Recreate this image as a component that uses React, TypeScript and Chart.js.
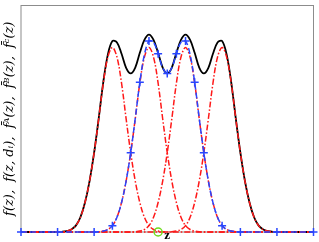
import React, { useEffect, useRef } from "react";
import { Chart, registerables } from "chart.js";

Chart.register(...registerables);

// z positions (axis runs 0..64)
const zGrid = [0, 4, 8, 9, 10, 11, 12, 13, 14, 15, 16, 17, 18, 19, 20, 21, 22, 23, 24, 25, 26, 27, 28, 29, 30, 31, 32, 33, 34, 35, 36, 37, 38, 39, 40, 41, 42, 43, 44, 45, 46, 47, 48, 49, 50, 51, 52, 53, 54, 55, 56, 60, 64];

// f(z): total density (black)
const fTotal = [0, 0, 0, 0.001, 0.004, 0.011, 0.028, 0.065, 0.13, 0.225, 0.35, 0.501, 0.661, 0.783, 0.843, 0.837, 0.787, 0.725, 0.70, 0.726, 0.791, 0.848, 0.871, 0.848, 0.791, 0.726, 0.70, 0.726, 0.791, 0.848, 0.871, 0.848, 0.791, 0.726, 0.70, 0.725, 0.787, 0.837, 0.843, 0.783, 0.661, 0.501, 0.35, 0.225, 0.13, 0.065, 0.028, 0.011, 0.004, 0.001, 0, 0, 0];

// f(z, d_i): the four components (red dash-dot)
const fCompA = [0, 0, 0, 0.001, 0.004, 0.011, 0.028, 0.065, 0.13, 0.225, 0.35, 0.5, 0.657, 0.772, 0.815, 0.772, 0.657, 0.5, 0.35, 0.225, 0.13, 0.065, 0.028, 0.011, 0.004, 0.001, 0, 0, 0, 0, 0, 0, 0, 0, 0, 0, 0, 0, 0, 0, 0, 0, 0, 0, 0, 0, 0, 0, 0, 0, 0, 0, 0];
const fCompB = [0, 0, 0, 0, 0, 0, 0, 0, 0, 0, 0, 0.001, 0.004, 0.011, 0.028, 0.065, 0.13, 0.225, 0.35, 0.5, 0.657, 0.772, 0.815, 0.772, 0.657, 0.5, 0.35, 0.225, 0.13, 0.065, 0.028, 0.011, 0.004, 0.001, 0, 0, 0, 0, 0, 0, 0, 0, 0, 0, 0, 0, 0, 0, 0, 0, 0, 0, 0];
const fCompC = [0, 0, 0, 0, 0, 0, 0, 0, 0, 0, 0, 0, 0, 0, 0, 0, 0, 0, 0, 0.001, 0.004, 0.011, 0.028, 0.065, 0.13, 0.225, 0.35, 0.5, 0.657, 0.772, 0.815, 0.772, 0.657, 0.5, 0.35, 0.225, 0.13, 0.065, 0.028, 0.011, 0.004, 0.001, 0, 0, 0, 0, 0, 0, 0, 0, 0, 0, 0];
const fCompD = [0, 0, 0, 0, 0, 0, 0, 0, 0, 0, 0, 0, 0, 0, 0, 0, 0, 0, 0, 0, 0, 0, 0, 0, 0, 0, 0, 0.001, 0.004, 0.011, 0.028, 0.065, 0.13, 0.225, 0.35, 0.5, 0.657, 0.772, 0.815, 0.772, 0.657, 0.5, 0.35, 0.225, 0.13, 0.065, 0.028, 0.011, 0.004, 0.001, 0, 0, 0];

// f-bar (blue dashed with + markers)
const fBar = [0, 0, 0, 0, 0, 0, 0, 0, 0, 0, 0, 0.001, 0.004, 0.011, 0.028, 0.065, 0.13, 0.225, 0.35, 0.501, 0.661, 0.783, 0.843, 0.837, 0.787, 0.725, 0.70, 0.725, 0.787, 0.837, 0.843, 0.783, 0.661, 0.501, 0.35, 0.225, 0.13, 0.065, 0.028, 0.011, 0.004, 0.001, 0, 0, 0, 0, 0, 0, 0, 0, 0, 0, 0];
const markerZ = [0, 8, 16, 20, 24, 26, 28, 30, 32, 34, 36, 38, 40, 44, 48, 56, 64];

// highlighted point on the z axis (green ring)
const pointZ = [30];
const pointF = [0];

const yTitle = "f(z),  f(z, dᵢ),  f̄ᴬ(z),  f̄ᴮ(z),  f̄ᶜ(z)";
const xTitle = "z";

const RED = "rgb(255,25,25)";
const BLUE = "rgb(40,70,255)";

export default function App() {
  const ref = useRef<HTMLCanvasElement>(null);

  useEffect(() => {
    document.body.style.margin = "0";
    const canvas = ref.current;
    if (!canvas) return;
    const pts = (ys: number[]) => zGrid.map((z, i) => ({ x: z, y: ys[i] }));

    const boxPlugin = {
      id: "box",
      beforeDatasetsDraw(chart: any) {
        const { ctx, chartArea: a } = chart;
        ctx.save();
        ctx.strokeStyle = "#8c8c8c";
        ctx.lineWidth = 1;
        ctx.strokeRect(a.left, a.top, a.right - a.left, a.bottom - a.top);
        ctx.restore();
      },
    };

    const curve = {
      tension: 0.35,
      capBezierPoints: true,
      pointRadius: 0,
      clip: false as const,
    };

    const redSet = (ys: number[]) => ({
      ...curve,
      data: pts(ys),
      borderColor: RED,
      borderWidth: 1.5,
      borderDash: [6, 2, 1.5, 2],
      order: 2,
    });

    const chart = new Chart(canvas, {
      type: "line",
      data: {
        datasets: [
          {
            data: pointZ.map((z, i) => ({ x: z, y: pointF[i] })),
            showLine: false,
            pointStyle: "circle",
            pointRadius: 4,
            pointBorderWidth: 1.5,
            pointBorderColor: "rgb(110,220,30)",
            pointBackgroundColor: "rgba(0,0,0,0)",
            clip: false as const,
            order: 0,
          },
          {
            ...curve,
            data: pts(fBar),
            borderColor: BLUE,
            borderWidth: 1.5,
            borderDash: [6, 3],
            pointStyle: "cross",
            pointRadius: (c: any) => (markerZ.includes(zGrid[c.dataIndex]) ? 4 : 0),
            pointBorderColor: BLUE,
            pointBorderWidth: 1.5,
            order: 1,
          },
          redSet(fCompA),
          redSet(fCompB),
          redSet(fCompC),
          redSet(fCompD),
          {
            ...curve,
            data: pts(fTotal),
            borderColor: "#000000",
            borderWidth: 1.8,
            order: 3,
          },
        ],
      },
      options: {
        animation: false,
        responsive: true,
        maintainAspectRatio: false,
        layout: { padding: { top: 2, right: 4, left: 0, bottom: 0 } },
        plugins: { legend: { display: false }, tooltip: { enabled: false } },
        events: [],
        scales: {
          x: {
            type: "linear",
            min: 0,
            max: 64,
            ticks: { display: false },
            grid: { display: false, drawTicks: false },
            border: { display: false },
            title: {
              display: true,
              text: xTitle,
              color: "#000",
              font: { family: "Liberation Serif", size: 13, weight: "bold", lineHeight: 1 },
              padding: { top: 0, bottom: 0 },
            },
            afterFit: (s: any) => {
              s.height = 10;
            },
          },
          y: {
            type: "linear",
            min: 0,
            max: 1,
            ticks: { display: false },
            grid: { display: false, drawTicks: false },
            border: { display: false },
            title: {
              display: true,
              text: yTitle,
              color: "#000",
              font: { family: "DejaVu Serif", size: 13, style: "italic", lineHeight: 1.2 },
              padding: { top: 2.2, bottom: 0 },
            },
            afterFit: (s: any) => {
              s.width = 21;
            },
          },
        },
      },
      plugins: [boxPlugin],
    });

    return () => chart.destroy();
  }, []);

  return (
    <div style={{ width: 319, height: 242, position: "relative" }}>
      <canvas ref={ref} />
    </div>
  );
}
